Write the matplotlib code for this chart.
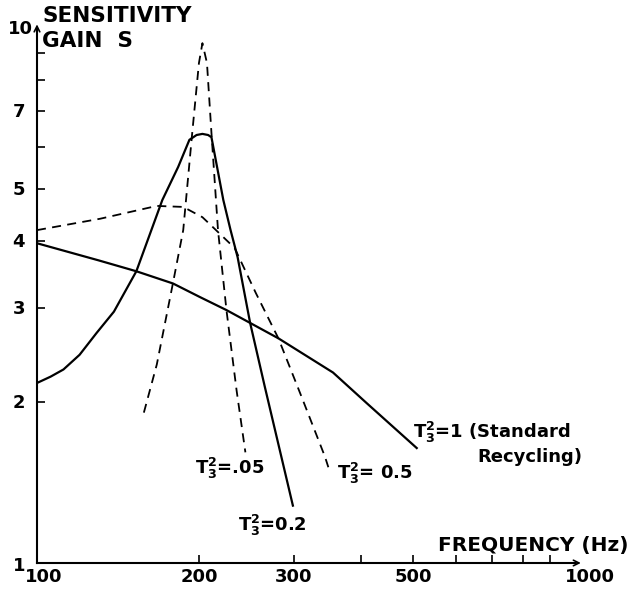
import matplotlib.pyplot as plt
from matplotlib.ticker import FixedLocator, NullFormatter, NullLocator

# curves (frequency in Hz, sensitivity gain S)
f_t1 = [100, 130, 153, 179, 201, 225, 249, 281, 355, 410, 508]
s_t1 = [3.96, 3.68, 3.51, 3.33, 3.14, 2.97, 2.81, 2.63, 2.27, 1.99, 1.64]

f_t02 = [100, 106, 112, 120, 129, 139, 153, 171, 183, 192, 198, 203, 208, 211, 222, 229, 236, 249, 265, 285, 299]
s_t02 = [2.17, 2.23, 2.30, 2.45, 2.69, 2.95, 3.51, 4.77, 5.5, 6.18, 6.31, 6.34, 6.31, 6.25, 4.77, 4.19, 3.73, 2.81, 2.14, 1.57, 1.28]

f_t005 = [158, 167, 179, 187, 194, 200, 203, 207, 211, 217, 225, 235, 244]
s_t005 = [1.91, 2.35, 3.34, 4.19, 6.25, 8.6, 9.37, 8.6, 6.37, 4.19, 2.97, 2.1, 1.61]

f_t05 = [100, 131, 167, 187, 203, 212, 233, 255, 281, 310, 343, 348]
s_t05 = [4.19, 4.40, 4.65, 4.63, 4.43, 4.25, 3.88, 3.2, 2.63, 2.05, 1.58, 1.51]

xtick_marks = [200, 300, 400, 500, 600, 700, 800, 900]
xtick_labels = [(100, "100"), (200, "200"), (300, "300"), (500, "500"), (1000, "1000")]
ytick_marks = [2, 3, 4, 5, 6, 7, 8, 9]
ytick_labels = [(1, "1"), (2, "2"), (3, "3"), (4, "4"), (5, "5"), (7, "7"), (10, "10")]

plt.rcParams['font.family'] = ['DejaVu Sans']
plt.rcParams['mathtext.fontset'] = 'dejavusans'

fig = plt.figure(figsize=(6.29, 5.90), dpi=100)
ax = fig.add_axes([0.0588, 0.0458, 0.8553, 0.9067])
ax.set_xscale('log')
ax.set_yscale('log')
ax.set_xlim(100, 1000)
ax.set_ylim(1, 10)

lw = 1.6
ax.plot(f_t1, s_t1, color='black', lw=lw)
ax.plot(f_t02, s_t02, color='black', lw=lw)
ax.plot(f_t005, s_t005, color='black', lw=1.3, ls=(0, (5, 3.5)))
ax.plot(f_t05, s_t05, color='black', lw=1.3, ls=(0, (5, 3.5)))

for side in ['top', 'right']:
    ax.spines[side].set_visible(False)
for side in ['left', 'bottom']:
    ax.spines[side].set_linewidth(1.5)

ax.xaxis.set_major_locator(FixedLocator(xtick_marks))
ax.yaxis.set_major_locator(FixedLocator(ytick_marks))
ax.xaxis.set_minor_locator(NullLocator())
ax.yaxis.set_minor_locator(NullLocator())
ax.xaxis.set_major_formatter(NullFormatter())
ax.yaxis.set_major_formatter(NullFormatter())
ax.tick_params(direction='in', length=6, width=1.2)

# axis arrows
ax.annotate('', xy=(1.016, 0), xytext=(0.99, 0), xycoords='axes fraction',
            arrowprops=dict(arrowstyle='->', lw=1.2, color='black'))
ax.annotate('', xy=(0, 1.012), xytext=(0, 0.99), xycoords='axes fraction',
            arrowprops=dict(arrowstyle='->', lw=1.2, color='black'))

# tick labels
trans_x = ax.get_xaxis_transform()
for val, txt in xtick_labels:
    dx = {100: 7, 1000: 15}.get(val, 0)
    ax.annotate(txt, xy=(val, 0), xycoords=trans_x, xytext=(dx, -14),
                textcoords='offset pixels', ha='center', va='center',
                fontsize=13, fontweight='bold')
trans_y = ax.get_yaxis_transform()
for val, txt in ytick_labels:
    dx = -4 if val == 10 else -12
    ax.annotate(txt, xy=(0, val), xycoords=trans_y, xytext=(dx, -1 if val > 1 else -3),
                textcoords='offset pixels', ha='right', va='center',
                fontsize=13, fontweight='bold')

# axis titles
fig.text(42 / 629, 1 - 16 / 590, 'SENSITIVITY', fontsize=15.5, fontweight='bold',
         ha='left', va='center')
fig.text(42 / 629, 1 - 41 / 590, 'GAIN  S', fontsize=15.5, fontweight='bold',
         ha='left', va='center')
fig.text(628 / 629, 1 - 545 / 590, 'FREQUENCY (Hz)', fontsize=14.5, fontweight='bold',
         ha='right', va='center')

# curve labels
T = r'$\mathbf{T_3^2}$'
lab = dict(fontsize=13, fontweight='bold', ha='left', va='center')
fig.text(413 / 629, 1 - 432 / 590, T + '=1 (Standard', **lab)
fig.text(477 / 629, 1 - 457 / 590, 'Recycling)', **lab)
fig.text(195 / 629, 1 - 468 / 590, T + '=.05', **lab)
fig.text(337 / 629, 1 - 473 / 590, T + '= 0.5', **lab)
fig.text(238 / 629, 1 - 525 / 590, T + '=0.2', **lab)

fig.savefig('out.png', dpi=100)
